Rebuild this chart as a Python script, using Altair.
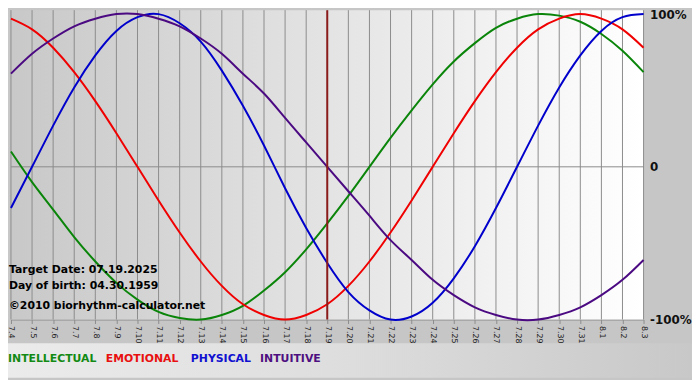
import altair as alt
import pandas as pd

# ---- data ----
days = ["7.4", "7.5", "7.6", "7.7", "7.8", "7.9", "7.10", "7.11", "7.12", "7.13",
        "7.14", "7.15", "7.16", "7.17", "7.18", "7.19", "7.20", "7.21", "7.22",
        "7.23", "7.24", "7.25", "7.26", "7.27", "7.28", "7.29", "7.30", "7.31",
        "8.1", "8.2", "8.3"]

intellectual = [10, -10, -28, -46, -62, -76, -87, -95, -99, -100, -97, -91, -81, -69,
                -54, -37, -19, 0, 19, 37, 54, 69, 81, 91, 97, 100, 99, 95, 87, 76, 62]
emotional = [97, 90, 78, 62, 43, 22, 0, -22, -43, -62, -78, -90, -97, -100, -97, -90,
             -78, -62, -43, -22, 0, 22, 43, 62, 78, 90, 97, 100, 97, 90, 78]
physical = [-27, 0, 27, 52, 73, 89, 98, 100, 94, 82, 63, 40, 14, -14, -40, -63, -82,
            -94, -100, -98, -89, -73, -52, -27, 0, 27, 52, 73, 89, 98, 100]
intuitive = [61, 74, 84, 92, 97, 100, 100, 97, 92, 84, 74, 61, 48, 32, 16, 0, -16,
             -32, -48, -61, -74, -84, -92, -97, -100, -100, -97, -92, -84, -74, -61]

series_names = ["INTELLECTUAL", "EMOTIONAL", "PHYSICAL", "INTUITIVE"]
series_colors = ["#0a850a", "#f00000", "#0000cc", "#4b0a82"]
legend_colors = ["#138a13", "#e81010", "#1010d0", "#4e1080"]
legend_x = [-3, 96, 182, 252]

target_day = "7.19"
y_ticks = [-100, 0, 100]
info_lines = ["Target Date: 07.19.2025", "Day of birth: 04.30.1959",
              "\u00a92010 biorhythm-calculator.net"]
info_y = [259, 275, 295]
legend_y = 349

W, H = 640, 309
FONT = "DejaVu Sans"
GRID = "#8c8c8c"

rows = []
for name, vals in zip(series_names, [intellectual, emotional, physical, intuitive]):
    for d, v in zip(days, vals):
        rows.append({"day": d, "value": v, "series": name})
df = pd.DataFrame(rows)

xscale = alt.Scale(type="point", domain=days, padding=0)
yscale = alt.Scale(domain=[-100, 100])

xaxis = alt.Axis(labelAngle=90, labelFont=FONT, labelFontSize=8, labelColor="#222222",
                 tickSize=4, tickColor=GRID, domainColor=GRID, grid=False, title=None,
                 labelPadding=2)
yaxis = alt.Axis(orient="right", values=y_ticks,
                 labelExpr="datum.value == 0 ? '0' : datum.value + '%'",
                 labelFont=FONT, labelFontSize=12, labelFontWeight="bold",
                 labelColor="#111111", ticks=False, domain=False, grid=False,
                 title=None, labelPadding=6, labelFlush=False)

one = pd.DataFrame({"a": [0]})

bg = alt.Chart(one).mark_rect(
    fill={"gradient": "linear", "x1": 0, "y1": 0, "x2": 1, "y2": 0,
          "stops": [{"offset": 0, "color": "#c8c8c8"}, {"offset": 1, "color": "#ffffff"}]}
).encode(x=alt.value(-3), x2=alt.value(W), y=alt.value(-4), y2=alt.value(H))

band = alt.Chart(one).mark_rect(
    fill={"gradient": "linear", "x1": 0, "y1": 0, "x2": 1, "y2": 0,
          "stops": [{"offset": 0, "color": "#ebebeb"}, {"offset": 0.5, "color": "#dddddd"},
                    {"offset": 1, "color": "#c8c8c8"}]}
).encode(x=alt.value(-3), x2=alt.value(692), y=alt.value(333), y2=alt.value(368))

vgrid = alt.Chart(pd.DataFrame({"day": days})).mark_rule(color=GRID, strokeWidth=1).encode(
    x=alt.X("day:O", scale=xscale, axis=xaxis),
    y=alt.value(-4), y2=alt.value(H))

zero = alt.Chart(pd.DataFrame({"v": [0]})).mark_rule(color=GRID, strokeWidth=1).encode(
    y=alt.Y("v:Q", scale=yscale, axis=yaxis))

lines = alt.Chart(df).mark_line(strokeWidth=2, interpolate="natural").encode(
    x=alt.X("day:O", scale=xscale, axis=xaxis),
    y=alt.Y("value:Q", scale=yscale, axis=yaxis),
    color=alt.Color("series:N", scale=alt.Scale(domain=series_names, range=series_colors),
                    legend=None),
)

target = alt.Chart(pd.DataFrame({"day": [target_day]})).mark_rule(
    color="#8b1a1a", strokeWidth=2).encode(
    x=alt.X("day:O", scale=xscale, axis=xaxis), y=alt.value(-4), y2=alt.value(H))

layers = [bg, band, vgrid, zero, lines, target]

for txt, yy in zip(info_lines, info_y):
    layers.append(alt.Chart(one).mark_text(
        text=txt, align="left", baseline="middle", font=FONT, fontSize=11,
        fontWeight="bold", color="#000000").encode(x=alt.value(-2), y=alt.value(yy)))

for name, col, xx in zip(series_names, legend_colors, legend_x):
    layers.append(alt.Chart(one).mark_text(
        text=name, align="left", baseline="middle", font=FONT, fontSize=11,
        fontWeight="bold", color=col).encode(x=alt.value(xx), y=alt.value(legend_y)))

chart = alt.layer(*layers).properties(
    width=W, height=H,
    padding={"left": 3, "top": 4, "right": 49, "bottom": 59},
    autosize=alt.AutoSizeParams(type="none"),
    background="#c6c6c6",
).configure_view(stroke="transparent")

chart.save("out.html", embed_options={"renderer": "svg", "actions": False})
